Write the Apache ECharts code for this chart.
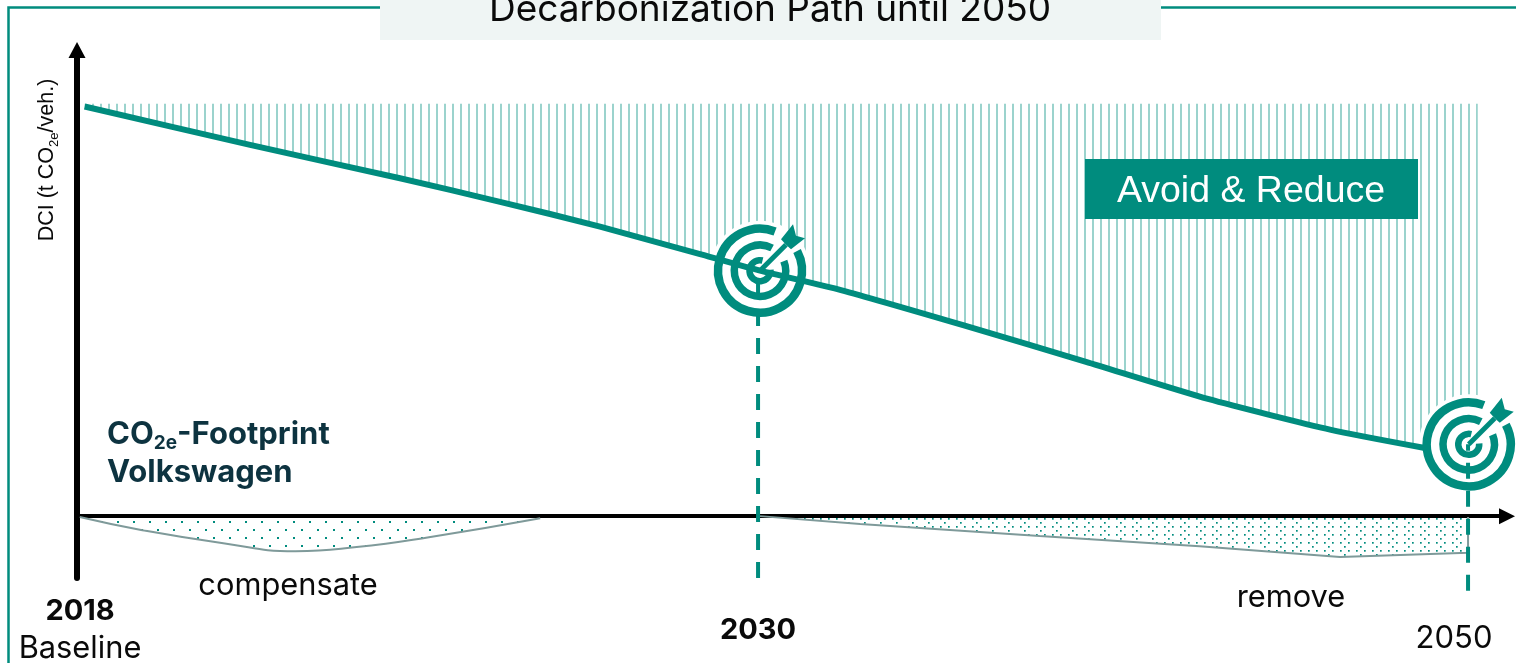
<!DOCTYPE html>
<html><head><meta charset="utf-8">
<style>html,body{margin:0;padding:0;background:#fff;overflow:hidden}#c{width:1516px;height:663px}</style>
<script src="https://cdn.jsdelivr.net/npm/echarts@6/dist/echarts.min.js"></script>
</head><body><div id="c"></div>
<script>
// Schematic timeline: x = share of the 2018–2050 axis, y = index (2018 baseline = 100)
const titleText = 'Decarbonization Path until 2050';
const baselineLevel = 100;
const pathX = [0.55, 12.44, 23.22, 30.41, 37.6, 44.79, 49.1, 54.92, 63.7, 72.54, 81.3, 90.15, 96.9];
const pathY = [99.3, 90.0, 81.9, 76.2, 70.2, 63.5, 59.5, 54.8, 46.3, 37.4, 28.4, 20.9, 16.5];
const hatchEndX = 100.7, hatchEndY = 13.7;
const compensateX = [0.2, 4.7, 10.4, 15.7, 20.1, 25.3, 33.3];
const compensateY = [-0.2, -3.4, -6.5, -8.5, -7.5, -5.1, -0.5];
const removeX = [49.1, 56.3, 69.2, 80.7, 90.8, 100, 100];
const removeY = [0, -1.9, -4.8, -7.3, -9.9, -8.9, -0.2];
const targetX = [49.1, 100.05];
const targetY = [59.5, 17.4];
const dropX = [48.96, 100];
const dropBottomY = [-15, -18.1];

const TEAL = '#008c7e', HATCH = '#9bd3cd', GREY = '#7f9a9a', INK = '#0d3340';
const UI = 'Inter, "Noto Sans", sans-serif', SANS = '"Liberation Sans", Arial, sans-serif';

function tile(w, h, draw) {
  const c = document.createElement('canvas'); c.width = w; c.height = h;
  draw(c.getContext('2d')); return c;
}
const hatchTile = tile(8, 2, g => { g.fillStyle = HATCH; g.fillRect(4, 0, 2, 2); });
const dotsWide = tile(16, 16, g => { g.fillStyle = TEAL; g.fillRect(5, 9, 2, 2); g.fillRect(13, 1, 2, 2); });
const dotsDense = tile(16, 8, g => { g.fillStyle = TEAL; g.fillRect(4, 6, 1.7, 1.7); g.fillRect(12, 6, 1.7, 1.7); g.fillRect(0, 2, 1.7, 1.7); });

const baseX = pathX.concat([hatchEndX]);
const baseY = pathY.concat([hatchEndY]);
const zip = (a, b) => a.map((v, i) => [v, b[i]]);
const rad = d => d * Math.PI / 180;

function ring(cx, cy, r, w, from, to) {
  return { type: 'arc', shape: { cx, cy, r, startAngle: rad(from), endAngle: rad(to), clockwise: true },
    style: { fill: null, stroke: TEAL, lineWidth: w } };
}
function renderRings(params, api) {
  const [cx, cy] = api.coord([api.value(0), api.value(1)]);
  const p = pts => pts.map(q => [cx + q[0], cy + q[1]]);
  return { type: 'group', children: [
    ring(cx, cy, 42, 8.5, -28, 291),
    ring(cx, cy, 25.7, 7.5, -22, 298),
    ring(cx, cy, 10.5, 6.5, -5, 284),
    { type: 'line', shape: { x1: cx, y1: cy, x2: cx + 26, y2: cy - 26 }, style: { stroke: TEAL, lineWidth: 5 } },
    { type: 'polygon', shape: { points: p([[21, -31.5], [33, -46.5], [36, -35], [45, -32.5], [31, -21.5], [26, -26]]) }, style: { fill: TEAL } }
  ] };
}
function renderDisc(params, api) {
  const [cx, cy] = api.coord([api.value(0), api.value(1)]);
  return { type: 'circle', shape: { cx, cy, r: 50 }, style: { fill: '#fff' } };
}
const dash = (i, z) => ({
  type: 'line', z, silent: true, clip: false, symbol: 'none', animation: false,
  data: [[dropX[i], dropBottomY[i]], [dropX[i], targetY[i]]],
  lineStyle: { color: TEAL, width: 4, type: [16, 12], cap: 'butt' }
});
const txt = (x, y, text, size, extra) => ({
  type: 'text', x, y, z: 30,
  style: Object.assign({ text, fill: '#0a0a0a', font: `${size}px ${UI}`, align: 'center', verticalAlign: 'middle' }, extra || {})
});

const chart = echarts.init(document.getElementById('c'), null, { renderer: 'canvas' });
chart.setOption({
  animation: false,
  backgroundColor: '#fff',
  grid: { left: 77, right: 9, top: 50, bottom: 85 },
  xAxis: {
    type: 'value', min: 0, max: 102.8,
    axisLine: { onZero: true, symbol: ['none', 'triangle'], symbolSize: [16, 16], lineStyle: { color: '#000', width: 4 } },
    axisTick: { show: false }, axisLabel: { show: false }, splitLine: { show: false }
  },
  yAxis: {
    type: 'value', min: -15, max: 113,
    axisLine: { show: true, onZero: true, symbol: ['none', 'triangle'], symbolSize: [17, 16], lineStyle: { color: '#000', width: 6 } },
    axisTick: { show: false }, axisLabel: { show: false }, splitLine: { show: false }
  },
  series: [
    { name: 'Avoid & Reduce', type: 'line', z: 1, symbol: 'none', silent: true,
      data: zip(baseX, baseY), lineStyle: { width: 0 },
      areaStyle: { origin: baselineLevel, color: { image: hatchTile, repeat: 'repeat' }, opacity: 1 } },
    { name: 'compensate', type: 'line', z: 1, symbol: 'none', silent: true, smooth: 0.5,
      data: zip(compensateX, compensateY), lineStyle: { color: GREY, width: 2 },
      areaStyle: { color: { image: dotsWide, repeat: 'repeat' }, opacity: 1 } },
    { name: 'remove', type: 'line', z: 1, symbol: 'none', silent: true,
      data: zip(removeX, removeY), lineStyle: { color: GREY, width: 2 },
      areaStyle: { color: { image: dotsDense, repeat: 'repeat' }, opacity: 1 } },
    { name: 'disc', type: 'custom', z: 2, silent: true, clip: false, renderItem: renderDisc, data: zip(targetX, targetY) },
    dash(0, 3), dash(1, 3),
    { name: 'CO2e-Footprint', type: 'line', z: 4, symbol: 'none', silent: true, smooth: 0.2,
      data: zip(pathX, pathY), lineStyle: { color: TEAL, width: 6, cap: 'butt', join: 'round' } },
    { name: 'targets', type: 'custom', z: 5, silent: true, clip: false, renderItem: renderRings, data: zip(targetX, targetY) }
  ],
  graphic: [
    { type: 'polyline', z: 20, shape: { points: [[380, 7.5], [8.5, 7.5], [8.5, 663]] }, style: { fill: null, stroke: TEAL, lineWidth: 2.5 } },
    { type: 'line', z: 20, shape: { x1: 1161, y1: 7.5, x2: 1516, y2: 7.5 }, style: { stroke: TEAL, lineWidth: 2.5 } },
    { type: 'rect', z: 20, shape: { x: 380, y: 0, width: 781, height: 40 }, style: { fill: '#eff5f4' } },
    txt(770, 10, titleText, 37),
    { type: 'rect', z: 20, shape: { x: 1085, y: 159, width: 333, height: 60 }, style: { fill: TEAL } },
    txt(1251, 192, 'Avoid & Reduce', 37.5, { fill: '#fff', font: `37.5px ${SANS}` }),
    { type: 'text', z: 30, x: 47, y: 160, rotation: Math.PI / 2,
      style: { text: 'DCI (t CO{s|2e}/veh.)', fill: '#0a0a0a', font: `21.5px ${SANS}`, align: 'center', verticalAlign: 'middle',
        rich: { s: { font: `13px ${SANS}`, fill: '#0a0a0a', padding: [14, 0, 0, 0] } } } },
    { type: 'text', z: 30, x: 107, y: 435,
      style: { text: 'CO{s|2e}-Footprint', fill: INK, font: `bold 31px ${UI}`, align: 'left', verticalAlign: 'middle',
        rich: { s: { font: `bold 19px ${UI}`, fill: INK, padding: [16, 0, 0, 0] } } } },
    txt(107, 473, 'Volkswagen', 31, { fill: INK, font: `bold 31px ${UI}`, align: 'left' }),
    txt(288, 586, 'compensate', 30.8),
    txt(1291, 598, 'remove', 30.8),
    txt(80, 611, '2018', 29, { font: `bold 29px ${UI}` }),
    txt(80, 649, 'Baseline', 30.8),
    txt(758, 630, '2030', 29, { font: `bold 29px ${UI}` }),
    txt(1454, 639, '2050', 31)
  ]
});
</script></body></html>
